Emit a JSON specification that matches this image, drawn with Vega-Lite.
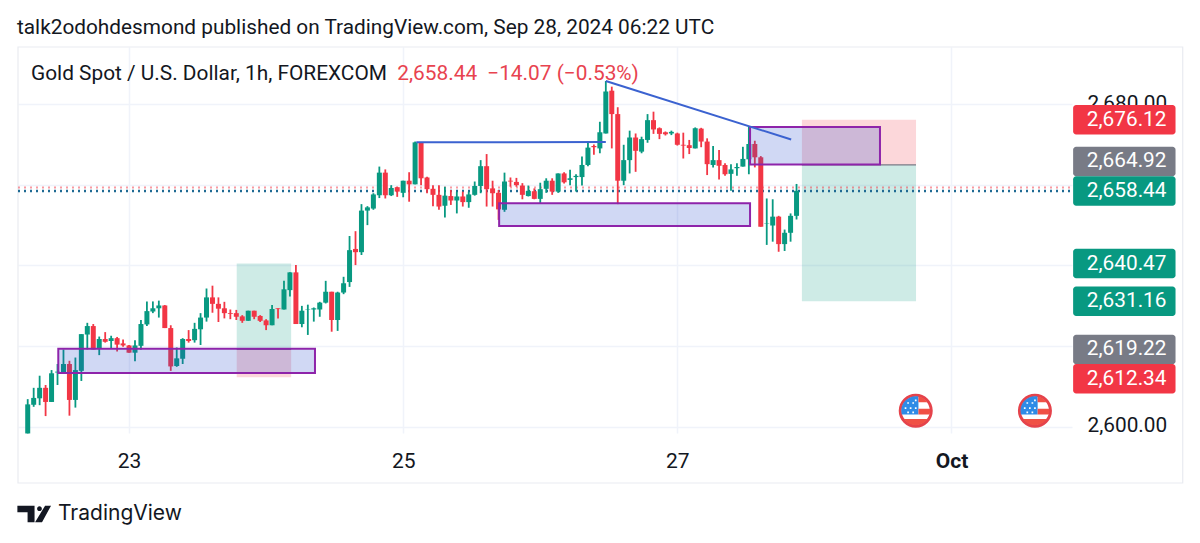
{"$schema":"https://vega.github.io/schema/vega-lite/v6.json","width":1054,"height":386,"autosize":"none","padding":{"left":18,"top":47,"right":128,"bottom":110},"background":"#ffffff","config":{"view":{"stroke":null},"font":"Roboto"},
"datasets":{
"candles":[
{"t":0,"o":2598.4,"h":2606.9,"l":2598.4,"c":2605.6,"dir":"up"},{"t":1,"o":2605.5,"h":2609.7,"l":2605.0,"c":2607.2,"dir":"up"},{"t":2,"o":2607.1,"h":2612.7,"l":2605.4,"c":2609.7,"dir":"up"},{"t":3,"o":2609.7,"h":2610.4,"l":2602.7,"c":2606.2,"dir":"down"},{"t":4,"o":2606.2,"h":2614.1,"l":2606.2,"c":2613.3,"dir":"up"},{"t":5,"o":2613.5,"h":2615.6,"l":2610.4,"c":2613.7,"dir":"up"},{"t":6,"o":2613.5,"h":2619.2,"l":2613.5,"c":2615.6,"dir":"up"},{"t":7,"o":2615.6,"h":2616.4,"l":2602.8,"c":2606.7,"dir":"down"},{"t":8,"o":2606.7,"h":2617.2,"l":2604.8,"c":2614.1,"dir":"up"},{"t":9,"o":2613.9,"h":2623.0,"l":2611.4,"c":2623.0,"dir":"up"},
{"t":10,"o":2622.9,"h":2625.8,"l":2619.2,"c":2625.0,"dir":"up"},{"t":11,"o":2625.0,"h":2625.5,"l":2619.2,"c":2619.2,"dir":"down"},{"t":12,"o":2619.5,"h":2622.4,"l":2617.8,"c":2621.8,"dir":"up"},{"t":13,"o":2621.8,"h":2623.5,"l":2620.9,"c":2621.1,"dir":"down"},{"t":14,"o":2621.3,"h":2622.6,"l":2619.5,"c":2622.0,"dir":"up"},{"t":15,"o":2622.0,"h":2622.3,"l":2618.7,"c":2620.4,"dir":"down"},{"t":16,"o":2620.7,"h":2621.7,"l":2619.9,"c":2620.2,"dir":"down"},{"t":17,"o":2620.2,"h":2620.3,"l":2618.4,"c":2618.4,"dir":"down"},{"t":18,"o":2618.4,"h":2621.5,"l":2616.3,"c":2620.2,"dir":"up"},{"t":19,"o":2620.1,"h":2626.5,"l":2619.1,"c":2625.5,"dir":"up"},
{"t":20,"o":2625.4,"h":2631.1,"l":2625.0,"c":2628.7,"dir":"up"},{"t":21,"o":2628.6,"h":2631.1,"l":2628.2,"c":2629.4,"dir":"up"},{"t":22,"o":2629.4,"h":2631.3,"l":2627.1,"c":2630.1,"dir":"up"},{"t":23,"o":2630.1,"h":2630.2,"l":2624.5,"c":2624.5,"dir":"down"},{"t":24,"o":2624.5,"h":2625.2,"l":2613.9,"c":2615.0,"dir":"down"},{"t":25,"o":2615.1,"h":2619.7,"l":2614.9,"c":2617.0,"dir":"up"},{"t":26,"o":2616.9,"h":2622.0,"l":2615.6,"c":2621.8,"dir":"up"},{"t":27,"o":2621.8,"h":2624.0,"l":2620.9,"c":2621.3,"dir":"down"},{"t":28,"o":2621.5,"h":2625.8,"l":2620.9,"c":2624.3,"dir":"up"},{"t":29,"o":2624.2,"h":2628.2,"l":2620.3,"c":2627.1,"dir":"up"},
{"t":30,"o":2627.1,"h":2634.3,"l":2626.1,"c":2632.1,"dir":"up"},{"t":31,"o":2632.1,"h":2635.0,"l":2628.3,"c":2630.5,"dir":"down"},{"t":32,"o":2630.5,"h":2632.1,"l":2626.0,"c":2629.3,"dir":"down"},{"t":33,"o":2629.4,"h":2631.0,"l":2626.9,"c":2628.2,"dir":"down"},{"t":34,"o":2628.2,"h":2629.1,"l":2626.7,"c":2628.0,"dir":"down"},{"t":35,"o":2628.2,"h":2629.0,"l":2626.5,"c":2627.3,"dir":"down"},{"t":36,"o":2627.4,"h":2627.7,"l":2625.8,"c":2626.3,"dir":"down"},{"t":37,"o":2626.3,"h":2628.8,"l":2626.3,"c":2628.8,"dir":"up"},{"t":38,"o":2628.8,"h":2628.8,"l":2626.7,"c":2627.3,"dir":"down"},{"t":39,"o":2627.5,"h":2627.7,"l":2626.0,"c":2626.3,"dir":"down"},
{"t":40,"o":2626.4,"h":2626.7,"l":2624.0,"c":2625.2,"dir":"down"},{"t":41,"o":2625.2,"h":2630.2,"l":2625.2,"c":2629.2,"dir":"up"},{"t":42,"o":2629.4,"h":2629.4,"l":2626.9,"c":2629.2,"dir":"down"},{"t":43,"o":2629.1,"h":2636.2,"l":2629.1,"c":2634.1,"dir":"up"},{"t":44,"o":2633.9,"h":2638.3,"l":2632.3,"c":2638.3,"dir":"up"},{"t":45,"o":2638.3,"h":2640.1,"l":2625.5,"c":2625.5,"dir":"down"},{"t":46,"o":2625.5,"h":2630.0,"l":2624.7,"c":2628.8,"dir":"up"},{"t":47,"o":2629.0,"h":2630.3,"l":2622.8,"c":2629.1,"dir":"up"},{"t":48,"o":2629.1,"h":2629.6,"l":2626.1,"c":2629.4,"dir":"up"},{"t":49,"o":2629.1,"h":2631.0,"l":2627.3,"c":2630.8,"dir":"up"},
{"t":50,"o":2630.8,"h":2636.2,"l":2630.6,"c":2633.5,"dir":"up"},{"t":51,"o":2633.5,"h":2633.5,"l":2623.6,"c":2626.5,"dir":"down"},{"t":52,"o":2626.5,"h":2633.5,"l":2623.8,"c":2633.3,"dir":"up"},{"t":53,"o":2633.3,"h":2637.2,"l":2632.9,"c":2635.6,"dir":"up"},{"t":54,"o":2635.9,"h":2647.3,"l":2634.7,"c":2643.8,"dir":"up"},{"t":55,"o":2644.1,"h":2648.5,"l":2640.1,"c":2643.3,"dir":"down"},{"t":56,"o":2643.3,"h":2655.2,"l":2642.6,"c":2653.6,"dir":"up"},{"t":57,"o":2653.6,"h":2654.7,"l":2650.0,"c":2654.4,"dir":"up"},{"t":58,"o":2654.1,"h":2657.9,"l":2653.8,"c":2657.6,"dir":"up"},{"t":59,"o":2657.4,"h":2664.5,"l":2656.7,"c":2663.0,"dir":"up"},
{"t":60,"o":2663.0,"h":2663.8,"l":2656.6,"c":2657.4,"dir":"down"},{"t":61,"o":2657.4,"h":2659.9,"l":2657.2,"c":2659.2,"dir":"up"},{"t":62,"o":2659.4,"h":2659.5,"l":2657.0,"c":2658.3,"dir":"down"},{"t":63,"o":2658.0,"h":2661.0,"l":2656.9,"c":2661.0,"dir":"up"},{"t":64,"o":2661.0,"h":2663.1,"l":2655.8,"c":2660.1,"dir":"down"},{"t":65,"o":2660.1,"h":2670.7,"l":2660.1,"c":2670.5,"dir":"up"},{"t":66,"o":2670.5,"h":2670.6,"l":2659.9,"c":2661.6,"dir":"down"},{"t":67,"o":2661.8,"h":2662.0,"l":2657.9,"c":2658.9,"dir":"down"},{"t":68,"o":2659.0,"h":2659.9,"l":2654.7,"c":2657.5,"dir":"down"},{"t":69,"o":2657.5,"h":2659.9,"l":2653.8,"c":2654.6,"dir":"down"},
{"t":70,"o":2654.8,"h":2659.5,"l":2651.9,"c":2657.3,"dir":"up"},{"t":71,"o":2657.2,"h":2658.7,"l":2655.0,"c":2656.1,"dir":"down"},{"t":72,"o":2656.1,"h":2658.3,"l":2652.9,"c":2657.1,"dir":"up"},{"t":73,"o":2657.1,"h":2658.3,"l":2654.6,"c":2655.7,"dir":"down"},{"t":74,"o":2655.7,"h":2658.3,"l":2654.3,"c":2657.6,"dir":"up"},{"t":75,"o":2657.5,"h":2660.8,"l":2657.3,"c":2659.7,"dir":"up"},{"t":76,"o":2659.7,"h":2666.1,"l":2657.9,"c":2664.6,"dir":"up"},{"t":77,"o":2664.6,"h":2667.6,"l":2654.6,"c":2658.9,"dir":"down"},{"t":78,"o":2659.1,"h":2661.0,"l":2654.6,"c":2657.9,"dir":"down"},{"t":79,"o":2658.0,"h":2658.7,"l":2651.3,"c":2653.9,"dir":"down"},
{"t":80,"o":2653.8,"h":2663.0,"l":2653.3,"c":2660.8,"dir":"up"},{"t":81,"o":2661.0,"h":2661.8,"l":2659.5,"c":2660.8,"dir":"down"},{"t":82,"o":2660.7,"h":2661.7,"l":2659.5,"c":2659.9,"dir":"down"},{"t":83,"o":2659.8,"h":2660.4,"l":2656.4,"c":2657.5,"dir":"down"},{"t":84,"o":2657.2,"h":2659.8,"l":2657.1,"c":2658.5,"dir":"up"},{"t":85,"o":2658.4,"h":2659.1,"l":2656.4,"c":2656.5,"dir":"down"},{"t":86,"o":2656.5,"h":2660.5,"l":2655.4,"c":2658.9,"dir":"up"},{"t":87,"o":2659.0,"h":2661.6,"l":2658.0,"c":2661.0,"dir":"up"},{"t":88,"o":2661.0,"h":2661.6,"l":2657.5,"c":2658.3,"dir":"down"},{"t":89,"o":2658.3,"h":2662.8,"l":2658.0,"c":2662.8,"dir":"up"},
{"t":90,"o":2662.8,"h":2663.1,"l":2660.3,"c":2660.6,"dir":"down"},{"t":91,"o":2661.2,"h":2663.7,"l":2659.9,"c":2661.6,"dir":"up"},{"t":92,"o":2661.9,"h":2662.6,"l":2658.3,"c":2662.2,"dir":"up"},{"t":93,"o":2661.9,"h":2667.0,"l":2659.8,"c":2664.9,"dir":"up"},{"t":94,"o":2664.9,"h":2670.7,"l":2664.6,"c":2669.2,"dir":"up"},{"t":95,"o":2669.6,"h":2670.0,"l":2667.4,"c":2669.3,"dir":"down"},{"t":96,"o":2669.0,"h":2675.6,"l":2667.8,"c":2673.0,"dir":"up"},{"t":97,"o":2672.7,"h":2685.7,"l":2672.7,"c":2683.1,"dir":"up"},{"t":98,"o":2683.3,"h":2684.3,"l":2669.0,"c":2677.5,"dir":"down"},{"t":99,"o":2677.5,"h":2679.2,"l":2655.2,"c":2661.0,"dir":"down"},
{"t":100,"o":2661.0,"h":2669.9,"l":2659.9,"c":2666.1,"dir":"up"},{"t":101,"o":2666.1,"h":2673.4,"l":2662.8,"c":2671.7,"dir":"up"},{"t":102,"o":2671.7,"h":2672.7,"l":2663.2,"c":2668.4,"dir":"down"},{"t":103,"o":2668.2,"h":2671.9,"l":2667.8,"c":2671.3,"dir":"up"},{"t":104,"o":2671.1,"h":2677.5,"l":2670.4,"c":2676.0,"dir":"up"},{"t":105,"o":2676.0,"h":2678.1,"l":2672.6,"c":2673.7,"dir":"down"},{"t":106,"o":2674.0,"h":2674.2,"l":2671.3,"c":2672.6,"dir":"down"},{"t":107,"o":2673.0,"h":2673.2,"l":2672.2,"c":2672.5,"dir":"down"},{"t":108,"o":2672.7,"h":2673.4,"l":2672.3,"c":2673.1,"dir":"up"},{"t":109,"o":2672.7,"h":2672.9,"l":2669.7,"c":2669.9,"dir":"down"},
{"t":110,"o":2669.9,"h":2672.9,"l":2666.5,"c":2669.7,"dir":"down"},{"t":111,"o":2669.8,"h":2671.1,"l":2667.6,"c":2669.1,"dir":"down"},{"t":112,"o":2669.0,"h":2674.2,"l":2669.0,"c":2674.0,"dir":"up"},{"t":113,"o":2673.9,"h":2674.1,"l":2669.3,"c":2670.7,"dir":"down"},{"t":114,"o":2670.7,"h":2671.5,"l":2662.4,"c":2665.1,"dir":"down"},{"t":115,"o":2664.9,"h":2669.6,"l":2664.3,"c":2666.1,"dir":"up"},{"t":116,"o":2666.1,"h":2668.6,"l":2661.3,"c":2664.7,"dir":"down"},{"t":117,"o":2664.9,"h":2665.3,"l":2662.2,"c":2662.6,"dir":"down"},{"t":118,"o":2662.7,"h":2665.1,"l":2658.5,"c":2663.8,"dir":"up"},{"t":119,"o":2664.1,"h":2665.3,"l":2662.2,"c":2664.4,"dir":"up"},
{"t":120,"o":2664.5,"h":2669.4,"l":2664.5,"c":2666.4,"dir":"up"},{"t":121,"o":2666.3,"h":2674.4,"l":2662.6,"c":2670.1,"dir":"up"},{"t":122,"o":2670.1,"h":2670.9,"l":2664.3,"c":2666.8,"dir":"down"},{"t":123,"o":2666.8,"h":2667.1,"l":2649.6,"c":2649.6,"dir":"down"},{"t":124,"o":2650.3,"h":2656.6,"l":2645.1,"c":2650.4,"dir":"up"},{"t":125,"o":2649.9,"h":2656.4,"l":2645.9,"c":2652.1,"dir":"up"},{"t":126,"o":2652.1,"h":2652.3,"l":2643.4,"c":2645.3,"dir":"down"},{"t":127,"o":2645.3,"h":2648.9,"l":2643.6,"c":2648.1,"dir":"up"},{"t":128,"o":2648.1,"h":2652.9,"l":2645.9,"c":2652.3,"dir":"up"},{"t":129,"o":2652.3,"h":2660.2,"l":2651.4,"c":2658.5,"dir":"up"}],
"boxes":[{"t":35.07,"t2":44.2,"lo":2619.22,"hi":2640.47,"dir":"up"},{"t":35.07,"t2":44.2,"lo":2612.34,"hi":2619.22,"dir":"down"},{"t":129.9,"t2":149.05,"lo":2631.16,"hi":2664.92,"dir":"up"},{"t":129.9,"t2":149.05,"lo":2664.92,"hi":2676.12,"dir":"down"}],
"entries":[{"t":35.07,"t2":44.2,"p":2619.22},{"t":129.9,"t2":149.05,"p":2664.92}],
"zones":[{"t":5.13,"t2":48.2,"lo":2613.4,"hi":2619.4},{"t":79.1,"t2":121.2,"lo":2649.8,"hi":2655.4},{"t":121.2,"t2":143,"lo":2665,"hi":2674.3}],
"trend":[{"t":65.2,"t2":97,"p":2670.5,"p2":2670.6},{"t":97,"t2":128.1,"p":2685.7,"p2":2671.2}],
"tags":[{"label":"2,676.12","pos":2676.12,"dir":"down"},{"label":"2,664.92","pos":2665.76,"dir":"flat"},{"label":"2,658.44","pos":2658.44,"dir":"up"},{"label":"2,640.47","pos":2640.47,"dir":"up"},{"label":"2,631.16","pos":2631.16,"dir":"up"},{"label":"2,619.22","pos":2619.22,"dir":"flat"},{"label":"2,612.34","pos":2611.96,"dir":"down"}],
"flags":[{"t":149,"p":2604.04},{"t":169,"p":2604.04}]
},
"layer":[
{"data":{"name":"boxes"},"mark":{"type":"rect","opacity":0.2},"encoding":{"x":{"field":"t","type":"quantitative","title":null,"scale":{"domain":[-1.63,175.22],"nice":false,"zero":false,"padding":0},"axis":{"values":[17,63,109,155],"labelExpr":"datum.value==17?'23':datum.value==63?'25':datum.value==109?'27':'Oct'","grid":true,"gridColor":"#f0f3fa","gridWidth":1.5,"domain":false,"ticks":false,"labelFont":"Roboto","labelFontSize":21,"labelColor":"#131722","labelPadding":17,"labelFontWeight":{"condition":{"test":"datum.value==155","value":"bold"},"value":"normal"},"labelOverlap":false}},"x2":{"field":"t2"},"y":{"field":"lo","type":"quantitative","title":null,"scale":{"domain":[2598.51,2694.12],"nice":false,"zero":false,"padding":0},"axis":{"values":[2600,2620,2640,2660,2680],"labelExpr":"datum.value==2600||datum.value==2680?format(datum.value,',.2f'):''","orient":"right","grid":true,"gridColor":"#f0f3fa","gridWidth":1.5,"domain":false,"ticks":false,"labelFont":"Roboto","labelFontSize":20.8,"labelColor":"#131722","labelPadding":15,"labelOverlap":false,"labelOffset":-1}},"y2":{"field":"hi"},"color":{"field":"dir","type":"nominal","scale":{"domain":["up","down","flat"],"range":["#089981","#f23645","#787b86"]},"legend":null}}},
{"data":{"values":[{"x0":-1.63,"x1":193.8,"y0":2586.13,"y1":2694.12}]},"mark":{"type":"rect","fillOpacity":0,"stroke":"#e9ebf1","strokeWidth":1.2},"encoding":{"x":{"field":"x0","type":"quantitative"},"x2":{"field":"x1"},"y":{"field":"y0","type":"quantitative"},"y2":{"field":"y1"}}},
{"data":{"values":[{"p":2659.3}]},"mark":{"type":"rule","stroke":"#f23645","strokeOpacity":0.5,"strokeWidth":2,"strokeDash":[2,4]},"encoding":{"x":{"datum":-1.63,"type":"quantitative"},"x2":{"datum":175.22},"y":{"field":"p","type":"quantitative"}}},
{"data":{"values":[{"p":2658.44}]},"mark":{"type":"rule","stroke":"#1f6a93","strokeWidth":2.6,"strokeDash":[2,4]},"encoding":{"x":{"datum":-1.63,"type":"quantitative"},"x2":{"datum":175.22},"y":{"field":"p","type":"quantitative"}}},
{"data":{"name":"entries"},"mark":{"type":"rule","stroke":"#787b86","strokeWidth":1.4},"encoding":{"x":{"field":"t","type":"quantitative"},"x2":{"field":"t2"},"y":{"field":"p","type":"quantitative"}}},
{"data":{"values":[{"t":-1.8,"p":2698.8,"label":"talk2odohdesmond published on TradingView.com, Sep 28, 2024 06:22 UTC"}]},"mark":{"type":"text","align":"left","baseline":"middle","font":"Roboto","fontSize":20.8,"color":"#131722"},"encoding":{"x":{"field":"t","type":"quantitative"},"y":{"field":"p","type":"quantitative"},"text":{"field":"label"}}},
{"data":{"values":[{"t":0.55,"p":2687.4,"label":"Gold Spot / U.S. Dollar, 1h, FOREXCOM"}]},"mark":{"type":"text","align":"left","baseline":"middle","font":"Roboto","fontSize":20.85,"color":"#131722"},"encoding":{"x":{"field":"t","type":"quantitative"},"y":{"field":"p","type":"quantitative"},"text":{"field":"label"}}},
{"data":{"values":[{"t":62,"p":2687.4,"label":"2,658.44"},{"t":77.1,"p":2687.4,"label":"−14.07 (−0.53%)"}]},"mark":{"type":"text","align":"left","baseline":"middle","font":"Roboto","fontSize":20.85,"color":"#e8434f"},"encoding":{"x":{"field":"t","type":"quantitative"},"y":{"field":"p","type":"quantitative"},"text":{"field":"label"}}},
{"data":{"name":"candles"},"mark":{"type":"rule","strokeWidth":1.8},"encoding":{"x":{"field":"t","type":"quantitative"},"y":{"field":"l","type":"quantitative"},"y2":{"field":"h"},"color":{"field":"dir","type":"nominal"}}},
{"data":{"name":"candles"},"mark":{"type":"bar","width":5,"orient":"vertical"},"encoding":{"x":{"field":"t","type":"quantitative"},"y":{"field":"o","type":"quantitative"},"y2":{"field":"c"},"color":{"field":"dir","type":"nominal"}}},
{"data":{"name":"zones"},"mark":{"type":"rect","fill":"#2a4fcc","fillOpacity":0.22,"stroke":"#8e24aa","strokeWidth":2},"encoding":{"x":{"field":"t","type":"quantitative"},"x2":{"field":"t2"},"y":{"field":"lo","type":"quantitative"},"y2":{"field":"hi"}}},
{"data":{"name":"trend"},"mark":{"type":"rule","stroke":"#3b62d0","strokeWidth":2},"encoding":{"x":{"field":"t","type":"quantitative"},"x2":{"field":"t2"},"y":{"field":"p","type":"quantitative"},"y2":{"field":"p2"}}},
{"data":{"name":"tags"},"mark":{"type":"rect","width":102.4,"height":29.5,"cornerRadius":3},"encoding":{"x":{"datum":184,"type":"quantitative"},"y":{"field":"pos","type":"quantitative"},"color":{"field":"dir","type":"nominal"}}},
{"data":{"name":"tags"},"mark":{"type":"text","align":"left","baseline":"middle","font":"Roboto","fontSize":20.8,"color":"#ffffff"},"encoding":{"x":{"datum":177.7,"type":"quantitative"},"y":{"field":"pos","type":"quantitative"},"text":{"field":"label"}}},
{"data":{"name":"flags"},"mark":{"type":"point","shape":"circle","filled":true,"fill":"#ffffff","stroke":"#e5434b","strokeWidth":3,"size":962,"opacity":1},"encoding":{"x":{"field":"t","type":"quantitative"},"y":{"field":"p","type":"quantitative"}}},
{"data":{"name":"flags"},"mark":{"type":"point","filled":true,"fill":"#2f8be6","opacity":1,"size":1156,"shape":"M.16 -.835 L.16 .22 L-.82 .22 A.85 .85 0 0 1 .16 -.835 Z"},"encoding":{"x":{"field":"t","type":"quantitative"},"y":{"field":"p","type":"quantitative"}}},
{"data":{"name":"flags"},"mark":{"type":"point","filled":true,"fill":"#f05045","opacity":1,"size":1156,"shape":"M.16 -.835 A.85 .85 0 0 1 .69 -.5 L.16 -.5 Z M.16 -.12 L.84 -.12 A.85 .85 0 0 1 .82 .22 L.16 .22 Z M-.695 .49 L.695 .49 A.85 .85 0 0 1 -.695 .49 Z"},"encoding":{"x":{"field":"t","type":"quantitative"},"y":{"field":"p","type":"quantitative"}}},
{"data":{"name":"flags"},"mark":{"type":"point","filled":true,"fill":"#ffffff","opacity":1,"size":1156,"shape":"M-.5 -.5h.1v.1h-.1Z M-.2 -.5h.1v.1h-.1Z M-.65 -.2h.1v.1h-.1Z M-.35 -.2h.1v.1h-.1Z M-.05 -.2h.1v.1h-.1Z M-.5 .05h.1v.1h-.1Z M-.2 .05h.1v.1h-.1Z M-.05 -.65h.1v.1h-.1Z"},"encoding":{"x":{"field":"t","type":"quantitative"},"y":{"field":"p","type":"quantitative"}}},
{"data":{"values":[{"t":1.09,"p":2578.45}]},"mark":{"type":"point","filled":true,"fill":"#131722","opacity":1,"size":1156,"shape":"M-.99 -.49 L.02 -.49 L.02 .49 L-.39 .49 L-.39 -.1 L-.99 -.1 Z M.17 -.31 A.14 .14 0 1 0 .45 -.31 A.14 .14 0 1 0 .17 -.31 Z M.64 -.49 L.99 -.49 L.46 .49 L.05 .49 Z"},"encoding":{"x":{"field":"t","type":"quantitative"},"y":{"field":"p","type":"quantitative"}}},
{"data":{"values":[{"t":5.08,"p":2578.45,"label":"TradingView"}]},"mark":{"type":"text","align":"left","baseline":"middle","font":"Inter","fontSize":21,"color":"#131722"},"encoding":{"x":{"field":"t","type":"quantitative"},"y":{"field":"p","type":"quantitative"},"text":{"field":"label"}}}
]}
